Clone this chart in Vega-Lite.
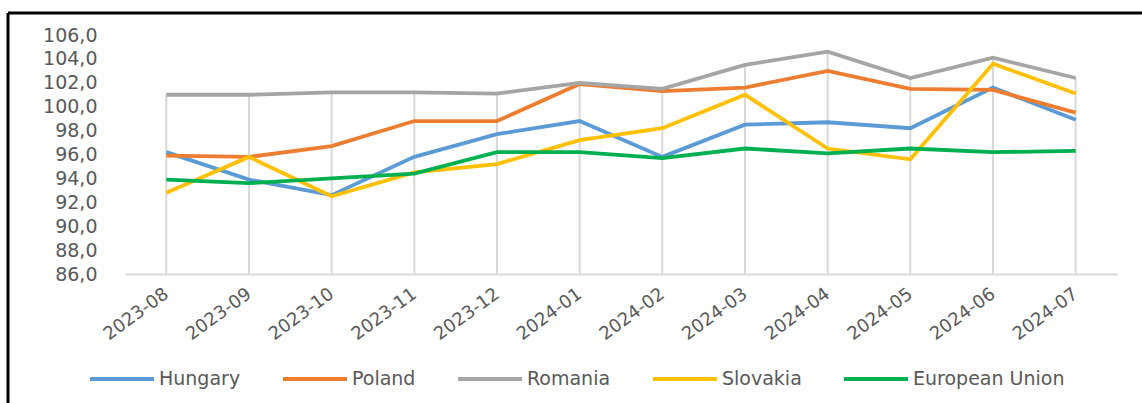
{
  "$schema": "https://vega.github.io/schema/vega-lite/v6.json",
  "autosize": "none",
  "padding": {"left": 8, "top": 13, "right": 0, "bottom": 0},
  "width": 1134,
  "height": 390,
  "background": "white",
  "config": {
    "view": {"stroke": "black", "strokeWidth": 3, "strokeDash": [1134, 1524, 390, 0]},
    "font": "DejaVu Sans"
  },
  "data": {
    "values": [
      {"month": "2023-08", "series": "Hungary", "value": 96.2},
      {"month": "2023-09", "series": "Hungary", "value": 93.9},
      {"month": "2023-10", "series": "Hungary", "value": 92.6},
      {"month": "2023-11", "series": "Hungary", "value": 95.8},
      {"month": "2023-12", "series": "Hungary", "value": 97.7},
      {"month": "2024-01", "series": "Hungary", "value": 98.8},
      {"month": "2024-02", "series": "Hungary", "value": 95.8},
      {"month": "2024-03", "series": "Hungary", "value": 98.5},
      {"month": "2024-04", "series": "Hungary", "value": 98.7},
      {"month": "2024-05", "series": "Hungary", "value": 98.2},
      {"month": "2024-06", "series": "Hungary", "value": 101.6},
      {"month": "2024-07", "series": "Hungary", "value": 98.9},
      {"month": "2023-08", "series": "Poland", "value": 95.9},
      {"month": "2023-09", "series": "Poland", "value": 95.8},
      {"month": "2023-10", "series": "Poland", "value": 96.7},
      {"month": "2023-11", "series": "Poland", "value": 98.8},
      {"month": "2023-12", "series": "Poland", "value": 98.8},
      {"month": "2024-01", "series": "Poland", "value": 101.9},
      {"month": "2024-02", "series": "Poland", "value": 101.3},
      {"month": "2024-03", "series": "Poland", "value": 101.6},
      {"month": "2024-04", "series": "Poland", "value": 103.0},
      {"month": "2024-05", "series": "Poland", "value": 101.5},
      {"month": "2024-06", "series": "Poland", "value": 101.4},
      {"month": "2024-07", "series": "Poland", "value": 99.5},
      {"month": "2023-08", "series": "Romania", "value": 101.0},
      {"month": "2023-09", "series": "Romania", "value": 101.0},
      {"month": "2023-10", "series": "Romania", "value": 101.2},
      {"month": "2023-11", "series": "Romania", "value": 101.2},
      {"month": "2023-12", "series": "Romania", "value": 101.1},
      {"month": "2024-01", "series": "Romania", "value": 102.0},
      {"month": "2024-02", "series": "Romania", "value": 101.5},
      {"month": "2024-03", "series": "Romania", "value": 103.5},
      {"month": "2024-04", "series": "Romania", "value": 104.6},
      {"month": "2024-05", "series": "Romania", "value": 102.4},
      {"month": "2024-06", "series": "Romania", "value": 104.1},
      {"month": "2024-07", "series": "Romania", "value": 102.4},
      {"month": "2023-08", "series": "Slovakia", "value": 92.8},
      {"month": "2023-09", "series": "Slovakia", "value": 95.8},
      {"month": "2023-10", "series": "Slovakia", "value": 92.5},
      {"month": "2023-11", "series": "Slovakia", "value": 94.5},
      {"month": "2023-12", "series": "Slovakia", "value": 95.2},
      {"month": "2024-01", "series": "Slovakia", "value": 97.2},
      {"month": "2024-02", "series": "Slovakia", "value": 98.2},
      {"month": "2024-03", "series": "Slovakia", "value": 101.0},
      {"month": "2024-04", "series": "Slovakia", "value": 96.5},
      {"month": "2024-05", "series": "Slovakia", "value": 95.6},
      {"month": "2024-06", "series": "Slovakia", "value": 103.6},
      {"month": "2024-07", "series": "Slovakia", "value": 101.1},
      {"month": "2023-08", "series": "European Union", "value": 93.9},
      {"month": "2023-09", "series": "European Union", "value": 93.6},
      {"month": "2023-10", "series": "European Union", "value": 94.0},
      {"month": "2023-11", "series": "European Union", "value": 94.4},
      {"month": "2023-12", "series": "European Union", "value": 96.2},
      {"month": "2024-01", "series": "European Union", "value": 96.2},
      {"month": "2024-02", "series": "European Union", "value": 95.7},
      {"month": "2024-03", "series": "European Union", "value": 96.5},
      {"month": "2024-04", "series": "European Union", "value": 96.1},
      {"month": "2024-05", "series": "European Union", "value": 96.5},
      {"month": "2024-06", "series": "European Union", "value": 96.2},
      {"month": "2024-07", "series": "European Union", "value": 96.3}
    ]
  },
  "encoding": {
    "x": {
      "field": "month",
      "type": "ordinal",
      "scale": {"type": "point", "range": [117, 1109], "padding": 0.5},
      "axis": {
        "title": null,
        "orient": "bottom",
        "offset": -129,
        "domainColor": "#D9D9D9",
        "domainWidth": 2,
        "ticks": false,
        "grid": false,
        "labelAngle": -36,
        "labelAlign": "right",
        "labelBaseline": "middle",
        "labelPadding": 18,
        "labelFontSize": 18,
        "labelColor": "#595959",
        "labelOverlap": false,
        "labelFlush": false
      }
    },
    "y": {
      "field": "value",
      "type": "quantitative",
      "scale": {"domain": [86, 106], "range": [261, 22], "zero": false, "nice": false},
      "axis": {
        "title": null,
        "orient": "left",
        "offset": -117,
        "values": [86, 88, 90, 92, 94, 96, 98, 100, 102, 104, 106],
        "labelExpr": "replace(format(datum.value, '.1f'), '.', ',')",
        "domain": false,
        "ticks": false,
        "grid": false,
        "labelPadding": 28,
        "labelFontSize": 19,
        "labelColor": "#595959"
      }
    }
  },
  "layer": [
    {
      "mark": {"type": "rule", "color": "#D9D9D9", "strokeWidth": 2},
      "encoding": {
        "y": {"aggregate": "max", "field": "value", "type": "quantitative"},
        "y2": {"datum": 86}
      }
    },
    {
      "mark": {"type": "line", "strokeWidth": 3.8},
      "encoding": {
        "color": {
          "field": "series",
          "type": "nominal",
          "scale": {
            "domain": ["Hungary", "Poland", "Romania", "Slovakia", "European Union"],
            "range": ["#5B9BD5", "#ED7D31", "#A5A5A5", "#FFC000", "#00B050"]
          },
          "legend": {
            "title": null,
            "orient": "none",
            "direction": "horizontal",
            "legendX": 80,
            "legendY": 332,
            "symbolType": "stroke",
            "symbolSize": 4096,
            "symbolStrokeWidth": 3.8,
            "labelFontSize": 19,
            "labelColor": "#595959",
            "labelOffset": 3,
            "columnPadding": 34,
            "labelLimit": 300
          }
        }
      }
    }
  ]
}
